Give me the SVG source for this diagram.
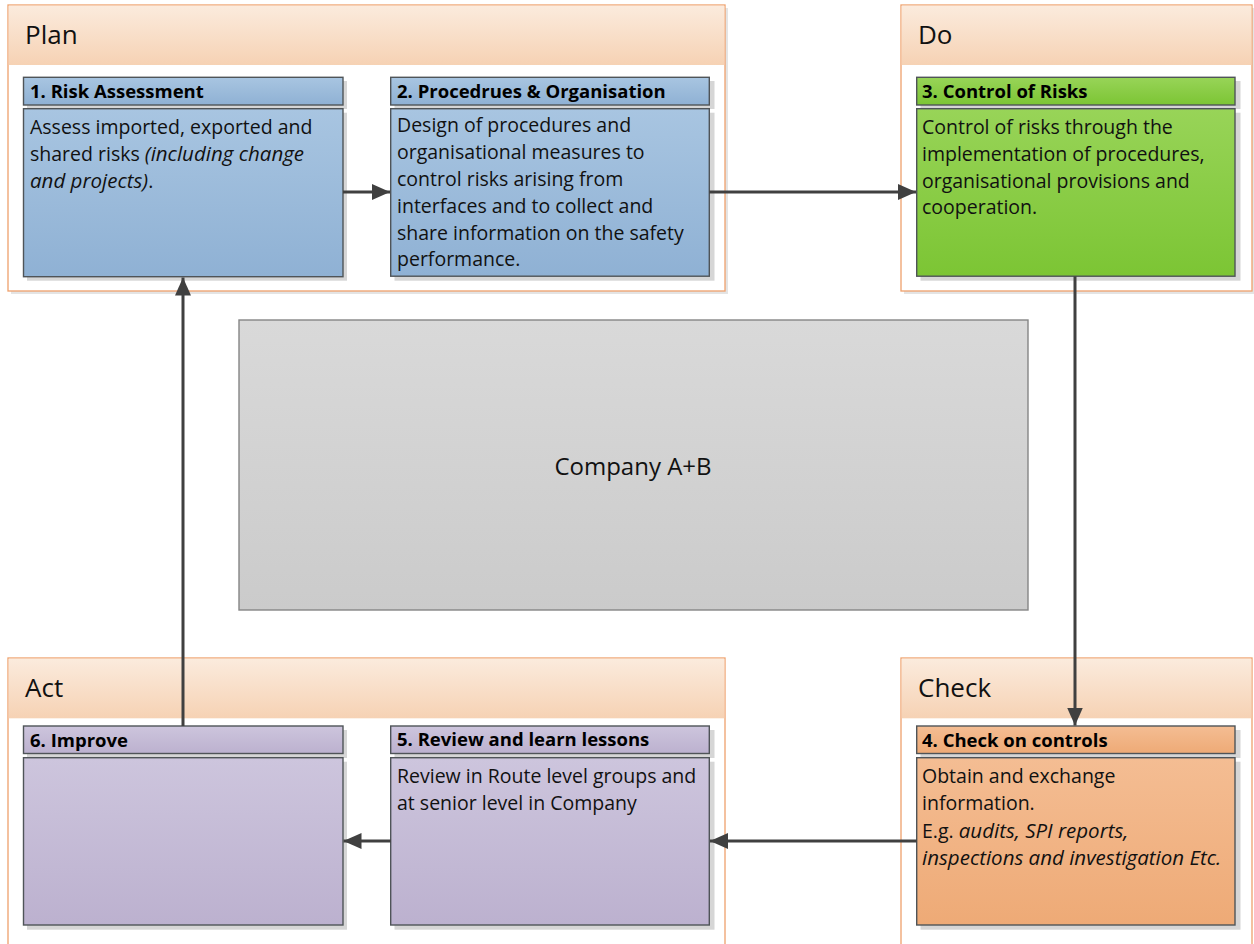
<svg xmlns="http://www.w3.org/2000/svg" width="1254" height="944" viewBox="0 0 1254 944">
  <defs>
    <linearGradient id="gHead" x1="0" y1="0" x2="0" y2="1">
      <stop offset="0" stop-color="#FBEBDD"/>
      <stop offset="1" stop-color="#F6D2B4"/>
    </linearGradient>
    <linearGradient id="gBlue" x1="0" y1="0" x2="0" y2="1">
      <stop offset="0" stop-color="#A8C5E1"/>
      <stop offset="1" stop-color="#8FB1D4"/>
    </linearGradient>
    <linearGradient id="gGreen" x1="0" y1="0" x2="0" y2="1">
      <stop offset="0" stop-color="#98D458"/>
      <stop offset="1" stop-color="#7CC534"/>
    </linearGradient>
    <linearGradient id="gOrange" x1="0" y1="0" x2="0" y2="1">
      <stop offset="0" stop-color="#F4BD93"/>
      <stop offset="1" stop-color="#EEAA76"/>
    </linearGradient>
    <linearGradient id="gPurple" x1="0" y1="0" x2="0" y2="1">
      <stop offset="0" stop-color="#CDC5DD"/>
      <stop offset="1" stop-color="#BCB1CF"/>
    </linearGradient>
    <linearGradient id="gGray" x1="0" y1="0" x2="0" y2="1">
      <stop offset="0" stop-color="#D9D9D9"/>
      <stop offset="1" stop-color="#CBCBCB"/>
    </linearGradient>
    <marker id="arrow" viewBox="0 0 18 18" refX="18" refY="9" markerWidth="18" markerHeight="18" markerUnits="userSpaceOnUse" orient="auto">
      <path d="M0,1 L18,9 L0,17 z" fill="#404040"/>
    </marker>
  </defs>
  <style>
    .cont { fill: #FFFFFF; stroke: #EFA06C; stroke-width: 1.3; }
    .band { fill: url(#gHead); }
    .cshadow { fill: #E4E4E4; }
    .title { font-family: "Open Sans", "Liberation Sans", sans-serif; font-size: 26px; fill: #111111; }
    .shadow { fill: #D6D6D6; }
    .box { stroke: #4F5458; stroke-width: 1.4; }
    .blue { fill: url(#gBlue); }
    .green { fill: url(#gGreen); }
    .orange { fill: url(#gOrange); }
    .purple { fill: url(#gPurple); }
    .hd { font-family: "Open Sans", "Liberation Sans", sans-serif; font-size: 18.5px; font-weight: bold; fill: #000000; }
    .tx { font-family: "Open Sans", "Liberation Sans", sans-serif; font-size: 19.5px; fill: #111111; }
    .it { font-style: italic; font-size: 20.5px; }
    .conn { stroke: #404040; stroke-width: 3; fill: none; marker-end: url(#arrow); }
  </style>

  <rect width="1254" height="944" fill="#FFFFFF"/>

  <!-- phase containers -->
  <g id="plan">
    <rect class="cshadow" x="11" y="8" width="717" height="286"/>
    <rect class="cont" x="8" y="5" width="717" height="286"/>
    <rect class="band" x="8.7" y="5.7" width="715.6" height="59.3"/>
    <text class="title" x="25" y="44">Plan</text>
  </g>
  <g id="do">
    <rect class="cshadow" x="904" y="8" width="352" height="286"/>
    <rect class="cont" x="901" y="5" width="351" height="286"/>
    <rect class="band" x="901.7" y="5.7" width="349.6" height="59.3"/>
    <text class="title" x="918" y="44">Do</text>
  </g>
  <g id="act">
    <rect class="cont" x="8" y="658" width="717" height="300"/>
    <rect class="band" x="8.7" y="658.7" width="715.6" height="59.6"/>
    <text class="title" x="25" y="697">Act</text>
  </g>
  <g id="check">
    <rect class="cont" x="901" y="658" width="351" height="300"/>
    <rect class="band" x="901.7" y="658.7" width="349.6" height="59.6"/>
    <text class="title" x="918" y="697">Check</text>
  </g>

  <!-- central box -->
  <g id="company">
    <rect x="239" y="320" width="789" height="290" fill="url(#gGray)" stroke="#858585" stroke-width="1.4"/>
    <text x="633" y="475" text-anchor="middle" font-family="Open Sans, Liberation Sans, sans-serif" font-size="24" fill="#111111">Company A+B</text>
  </g>

  <!-- step nodes -->
  <g id="n1">
    <rect class="shadow" x="27" y="81" width="320" height="28"/>
    <rect class="shadow" x="27" y="112.7" width="320" height="168"/>
    <rect class="box blue" x="23.5" y="77.3" width="319.5" height="27.7"/>
    <rect class="box blue" x="23.5" y="108.7" width="319.5" height="168"/>
    <text class="hd" x="30" y="98">1. Risk Assessment</text>
    <text class="tx" x="30" y="134">Assess imported, exported and</text>
    <text class="tx" x="30" y="161">shared risks <tspan class="it">(including change</tspan></text>
    <text class="tx" x="30" y="188"><tspan class="it">and projects)</tspan>.</text>
  </g>
  <g id="n2">
    <rect class="shadow" x="394.5" y="81" width="320" height="28"/>
    <rect class="shadow" x="394.5" y="112.7" width="320" height="168"/>
    <rect class="box blue" x="390.7" y="77.3" width="318.6" height="27.7"/>
    <rect class="box blue" x="390.7" y="108.7" width="318.6" height="167.5"/>
    <text class="hd" x="397" y="97.5">2. Procedrues &amp; Organisation</text>
    <text class="tx" x="397" y="132">Design of procedures and</text>
    <text class="tx" x="397" y="159">organisational measures to</text>
    <text class="tx" x="397" y="186">control risks arising from</text>
    <text class="tx" x="397" y="213">interfaces and to collect and</text>
    <text class="tx" x="397" y="240">share information on the safety</text>
    <text class="tx" x="397" y="266">performance.</text>
  </g>
  <g id="n3">
    <rect class="shadow" x="920.5" y="81" width="320" height="28"/>
    <rect class="shadow" x="920.5" y="112.7" width="320" height="168"/>
    <rect class="box green" x="916.7" y="77.3" width="318.3" height="27.7"/>
    <rect class="box green" x="916.7" y="108.7" width="318.3" height="167.5"/>
    <text class="hd" x="922" y="98">3. Control of Risks</text>
    <text class="tx" x="922" y="134">Control of risks through the</text>
    <text class="tx" x="922" y="161">implementation of procedures,</text>
    <text class="tx" x="922" y="188">organisational provisions and</text>
    <text class="tx" x="922" y="214">cooperation.</text>
  </g>
  <g id="n4">
    <rect class="shadow" x="920.5" y="730" width="320" height="28"/>
    <rect class="shadow" x="920.5" y="761.7" width="320" height="168"/>
    <rect class="box orange" x="916.7" y="726" width="318.3" height="27.5"/>
    <rect class="box orange" x="916.7" y="757.7" width="318.3" height="167.3"/>
    <text class="hd" x="922" y="746.5">4. Check on controls</text>
    <text class="tx" x="922" y="783">Obtain and exchange</text>
    <text class="tx" x="922" y="810">information.</text>
    <text class="tx" x="922" y="838">E.g. <tspan class="it">audits, SPI reports,</tspan></text>
    <text class="tx it" x="922" y="865">inspections and investigation Etc.</text>
  </g>
  <g id="n5">
    <rect class="shadow" x="394.5" y="730" width="320" height="28"/>
    <rect class="shadow" x="394.5" y="761.7" width="320" height="168"/>
    <rect class="box purple" x="390.7" y="726" width="318.6" height="27.5"/>
    <rect class="box purple" x="390.7" y="757.7" width="318.6" height="167.3"/>
    <text class="hd" x="397" y="746">5. Review and learn lessons</text>
    <text class="tx" x="397" y="783">Review in Route level groups and</text>
    <text class="tx" x="397" y="810">at senior level in Company</text>
  </g>
  <g id="n6">
    <rect class="shadow" x="27" y="730" width="320" height="28"/>
    <rect class="shadow" x="27" y="761.7" width="320" height="168"/>
    <rect class="box purple" x="23.5" y="726" width="319.5" height="27.5"/>
    <rect class="box purple" x="23.5" y="757.7" width="319.5" height="167.3"/>
    <text class="hd" x="30" y="746.5">6. Improve</text>
  </g>

  <!-- connectors -->
  <g id="connectors">
    <line class="conn" x1="343" y1="192" x2="390" y2="192"/>
    <line class="conn" x1="709.3" y1="192" x2="916" y2="192"/>
    <line class="conn" x1="1075" y1="276.2" x2="1075" y2="725.5"/>
    <line class="conn" x1="916.7" y1="841" x2="710" y2="841"/>
    <line class="conn" x1="390.7" y1="841" x2="343.5" y2="841"/>
    <line class="conn" x1="183" y1="726" x2="183" y2="277.5"/>
  </g>
</svg>
